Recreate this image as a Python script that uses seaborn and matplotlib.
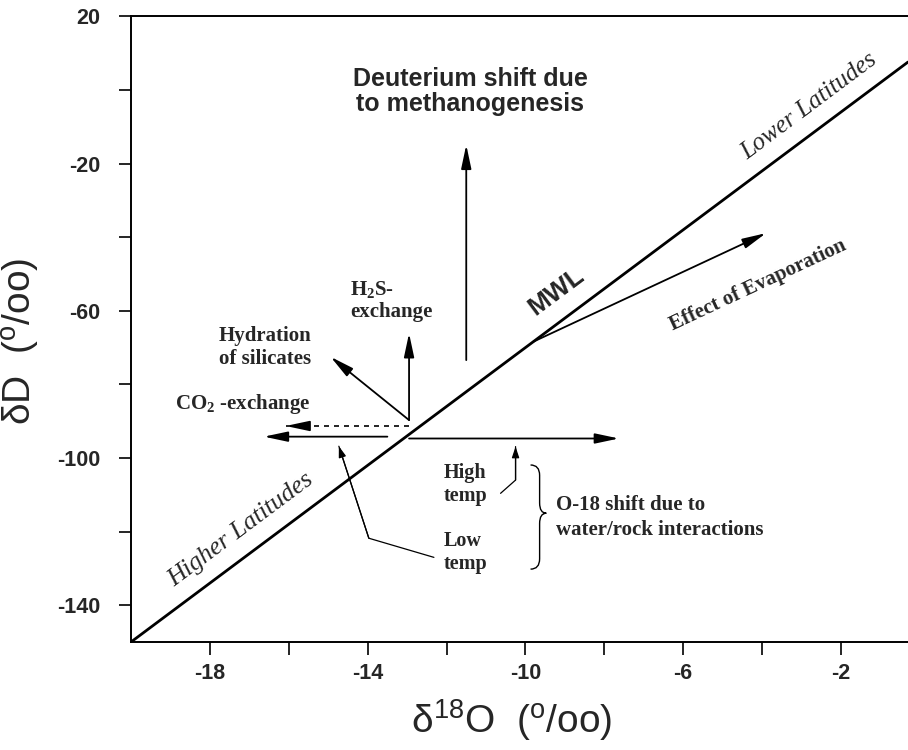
import numpy as np
import matplotlib
matplotlib.use("Agg")
import matplotlib.pyplot as plt
import seaborn as sns
from matplotlib.path import Path
from matplotlib.patches import PathPatch

sns.set_style("ticks")
plt.rcParams['font.family'] = ['Liberation Sans', 'DejaVu Sans']
plt.rcParams['axes.unicode_minus'] = False
plt.rcParams['mathtext.fontset'] = 'custom'
plt.rcParams['mathtext.rm'] = 'Liberation Serif'
plt.rcParams['mathtext.bf'] = 'Liberation Serif:bold'
plt.rcParams['mathtext.it'] = 'Liberation Serif:italic'
plt.rcParams['mathtext.sf'] = 'Liberation Sans'

SERIF = ['Liberation Serif', 'DejaVu Serif']

## Values
# meteoric water line
mwl_x = [-20.0, -0.3]
mwl_y = [-150.0, 7.6]

# solid arrows, start -> tip
arrow_names = ["methanogenesis", "h2s", "hydration", "low_temp", "high_temp", "evaporation"]
arrow_x0 = [-11.5, -12.95, -12.95, -13.5, -12.95, -9.8]
arrow_y0 = [-73.4, -89.7, -89.7, -94.2, -94.7, -68.4]
arrow_x1 = [-11.5, -12.95, -14.94, -16.63, -7.63, -3.9]
arrow_y1 = [-14.9, -66.1, -72.5, -94.2, -94.7, -38.9]

# dashed CO2-exchange arrow
co2_x = [-12.95, -16.08]
co2_y = [-91.3, -91.3]

# thin pointers from the temp labels
high_ptr_x = [-10.63, -10.25, -10.25]
high_ptr_y = [-109.6, -106.0, -96.9]
low_ptr_x = [-12.32, -13.97, -14.73]
low_ptr_y = [-127.0, -121.8, -96.8]

# curly brace: left end, spine, tip / top, middle, bottom
brace_x = [-9.87, -9.64, -9.47]
brace_y = [-101.9, -115.0, -130.2]

x_major = [-18, -14, -10, -6, -2]
x_minor = [-16, -12, -8, -4]
y_major = [-140, -100, -60, -20, 20]
y_minor = [-120, -80, -40, 0]

fig = plt.figure(figsize=(9.08, 7.5), dpi=100)
ax = fig.add_axes([131/908, 108/750, 777/908, 625.6/750])

sns.lineplot(x=mwl_x, y=mwl_y, color='black', lw=2.0, ax=ax)

head = dict(arrowstyle='-|>,head_length=0.8,head_width=0.17', mutation_scale=18,
            lw=1.3, color='black', shrinkA=0, shrinkB=0)
for x0, y0, x1, y1 in zip(arrow_x0, arrow_y0, arrow_x1, arrow_y1):
    ax.annotate('', xy=(x1, y1), xytext=(x0, y0), arrowprops=head)

# dashed shaft + solid head
sns.lineplot(x=co2_x, y=co2_y, color='black', lw=1.2, ls=(0, (3, 3)),
             estimator=None, sort=False, ax=ax)
ax.annotate('', xy=(co2_x[1], co2_y[1]), xytext=(co2_x[1] + 0.55, co2_y[1]), arrowprops=head)

small = dict(arrowstyle='-|>,head_length=0.6,head_width=0.2', mutation_scale=11,
             lw=0.9, color='black', shrinkA=0, shrinkB=0)
for px, py in [(high_ptr_x, high_ptr_y), (low_ptr_x, low_ptr_y)]:
    sns.lineplot(x=px, y=py, color='black', lw=0.9, estimator=None, sort=False, ax=ax)
    ax.annotate('', xy=(px[-1], py[-1]), xytext=(px[-2], py[-2]), arrowprops=small)

# brace
xl, xm, xt = brace_x
yt, ymid, yb = brace_y
h = 2.8
verts = [(xl, yt), (xm, yt), (xm, yt - h), (xm, ymid + h), (xm, ymid), (xt, ymid),
         (xm, ymid), (xm, ymid - h), (xm, yb + h), (xm, yb), (xl, yb)]
codes = [Path.MOVETO, Path.CURVE3, Path.CURVE3, Path.LINETO, Path.CURVE3, Path.CURVE3,
         Path.CURVE3, Path.CURVE3, Path.LINETO, Path.CURVE3, Path.CURVE3]
ax.add_patch(PathPatch(Path(verts, codes), fill=False, lw=1.0, color='black'))

## Labels
mwl_rot = np.degrees(np.arctan(8))
evap_rot = np.degrees(np.arctan(5))

ax.text(-11.4, -0.3, "Deuterium shift due\nto methanogenesis", ha='center', va='center',
        fontsize=18, fontweight='bold', linespacing=1.05)
ax.text(-9.23, -54.8, "MWL", ha='center', va='center', fontsize=19, fontweight='bold',
        rotation=mwl_rot, transform_rotates_text=True, rotation_mode='anchor')
ax.text(-2.8, -4.5, "Lower Latitudes", ha='center', va='center', fontsize=18,
        family=SERIF, style='italic', rotation=mwl_rot, transform_rotates_text=True,
        rotation_mode='anchor')
ax.text(-17.22, -119.6, "Higher Latitudes", ha='center', va='center', fontsize=18.5,
        family=SERIF, style='italic', rotation=mwl_rot, transform_rotates_text=True,
        rotation_mode='anchor')
ax.text(-4.1, -53.0, "Effect of Evaporation", ha='center', va='center', fontsize=15,
        family=SERIF, fontweight='bold', rotation=evap_rot, transform_rotates_text=True,
        rotation_mode='anchor')

ax.text(-14.45, -57.2, "H$_\\mathbf{2}$S-\nexchange", ha='left', va='center', fontsize=15,
        family=SERIF, fontweight='bold', linespacing=1.15)
ax.text(-17.77, -70.0, "Hydration\nof silicates", ha='left', va='center', fontsize=15,
        family=SERIF, fontweight='bold', linespacing=1.2)
ax.text(-18.88, -85.3, "CO$_\\mathbf{2}$ -exchange", ha='left', va='center', fontsize=15,
        family=SERIF, fontweight='bold')
ax.text(-12.07, -107.1, "High\ntemp", ha='left', va='center', fontsize=14.5,
        family=SERIF, fontweight='bold', linespacing=1.2)
ax.text(-12.07, -125.8, "Low\ntemp", ha='left', va='center', fontsize=14.5,
        family=SERIF, fontweight='bold', linespacing=1.2)
ax.text(-9.23, -116.2, "O-18 shift due to\nwater/rock interactions", ha='left', va='center',
        fontsize=15, family=SERIF, fontweight='bold', linespacing=1.3)

## Axes
ax.set_xlim(-20, -0.3)
ax.set_ylim(-150, 20)
ax.set_xticks(x_major)
ax.set_xticks(x_minor, minor=True)
ax.set_yticks(y_major)
ax.set_yticks(y_minor, minor=True)
ax.tick_params(which='both', direction='out', length=9, width=1.2, color='black')
ax.tick_params(axis='y', pad=13)
ax.tick_params(axis='x', pad=6)
for lab in ax.get_xticklabels() + ax.get_yticklabels():
    lab.set_fontsize(15.5)
    lab.set_fontweight('bold')

ax.spines['right'].set_visible(False)
for s in ['left', 'bottom', 'top']:
    ax.spines[s].set_linewidth(1.4)
    ax.spines[s].set_color('black')

ax.set_xlabel("\u03b4$\\mathsf{^{18}}$O  ($\\mathsf{^{o}}$/oo)", fontsize=28)
ax.set_ylabel("\u03b4D  ($\\mathsf{^{o}}$/oo)", fontsize=28)
ax.xaxis.set_label_coords(0.49, -0.088)
ax.yaxis.set_label_coords(-0.115, 0.48)

fig.savefig("out.png", dpi=100)
